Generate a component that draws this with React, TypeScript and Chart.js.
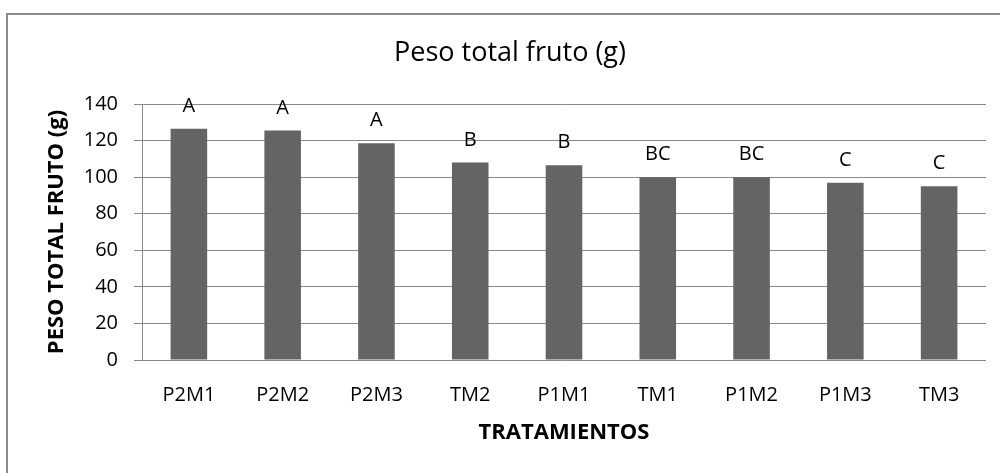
import React, { useEffect, useRef } from "react";
import { Chart, registerables } from "chart.js";

Chart.register(...registerables);

const categories = ["P2M1", "P2M2", "P2M3", "TM2", "P1M1", "TM1", "P1M2", "P1M3", "TM3"];
const pesoValues = [126.5, 125.5, 118.5, 108, 106.5, 100, 100, 97, 95];
const groupLetters = ["A", "A", "A", "B", "B", "BC", "BC", "C", "C"];
const yTicks = [0, 20, 40, 60, 80, 100, 120, 140];

const FONT = "'Open Sans', 'Liberation Sans', sans-serif";
const W = 1000;
const H = 473;
const PLOT_LEFT = 142;
const PLOT_BOTTOM = 360;
const PAD_LEFT = 34;

export default function App() {
  const canvasRef = useRef<HTMLCanvasElement | null>(null);

  useEffect(() => {
    const canvas = canvasRef.current;
    if (!canvas) return;

    const letterPlugin = {
      id: "letters",
      afterDatasetsDraw(chart: any) {
        const ctx = chart.ctx;
        const meta = chart.getDatasetMeta(0);
        ctx.save();
        ctx.font = `20px ${FONT}`;
        ctx.fillStyle = "#000";
        ctx.textAlign = "center";
        ctx.textBaseline = "alphabetic";
        meta.data.forEach((bar: any, i: number) => {
          ctx.fillText(groupLetters[i], bar.x, bar.y - 17);
        });
        ctx.restore();
      },
    };

    const chart = new Chart(canvas, {
      type: "bar",
      data: {
        labels: categories,
        datasets: [
          {
            label: "Peso total fruto (g)",
            data: pesoValues,
            backgroundColor: "#646464",
            borderWidth: 0,
            categoryPercentage: 1,
            barPercentage: 0.39,
          },
        ],
      },
      options: {
        responsive: false,
        animation: false,
        devicePixelRatio: 1,
        layout: { padding: { left: PAD_LEFT, right: 14, top: 0, bottom: 0 } },
        plugins: {
          legend: { display: false },
          tooltip: { enabled: false },
          title: {
            display: true,
            text: "Peso total fruto (g)",
            color: "#000",
            font: { family: FONT, size: 27, weight: "normal", lineHeight: 1.2 },
            padding: { top: 36.8, bottom: 34.8 },
          },
        },
        scales: {
          x: {
            grid: { display: false, drawTicks: false },
            border: { display: false },
            ticks: {
              color: "#000",
              font: { family: FONT, size: 20, lineHeight: 1.2 },
              padding: 23,
              maxRotation: 0,
              autoSkip: false,
            },
            title: {
              display: true,
              text: "TRATAMIENTOS",
              color: "#000",
              font: { family: FONT, size: 22, weight: "bold", lineHeight: 1.2 },
              padding: { top: 0, bottom: 26.8 },
            },
            afterFit: (s: any) => {
              s.height = H - PLOT_BOTTOM;
            },
          },
          y: {
            min: 0,
            max: 140,
            afterBuildTicks: (s: any) => {
              s.ticks = yTicks.map((v) => ({ value: v }));
            },
            grid: { color: "#898989", lineWidth: 1, tickLength: 8, drawTicks: true },
            border: { display: true, color: "#898989", width: 1 },
            ticks: {
              color: "#000",
              font: { family: FONT, size: 20, lineHeight: 1.2 },
              padding: 16,
            },
            title: {
              display: true,
              text: "PESO TOTAL FRUTO (g)",
              color: "#000",
              font: { family: FONT, size: 22, weight: "bold", lineHeight: 1.2 },
              padding: { top: 9.8, bottom: 0 },
            },
            afterFit: (s: any) => {
              s.width = PLOT_LEFT - PAD_LEFT;
            },
          },
        },
      },
      plugins: [letterPlugin],
    });

    return () => chart.destroy();
  }, []);

  return (
    <div
      style={{
        position: "absolute",
        left: 0,
        top: 0,
        width: W,
        height: H,
        overflow: "hidden",
        background: "#fff",
      }}
    >
      <div
        style={{
          position: "absolute",
          left: 6,
          top: 13,
          width: W + 50,
          height: H + 50,
          borderLeft: "2px solid #8c8c8c",
          borderTop: "2px solid #8c8c8c",
          boxSizing: "border-box",
        }}
      />
      <canvas
        ref={canvasRef}
        width={W}
        height={H}
        style={{ position: "absolute", left: 0, top: 0, width: W, height: H, display: "block" }}
      />
    </div>
  );
}
